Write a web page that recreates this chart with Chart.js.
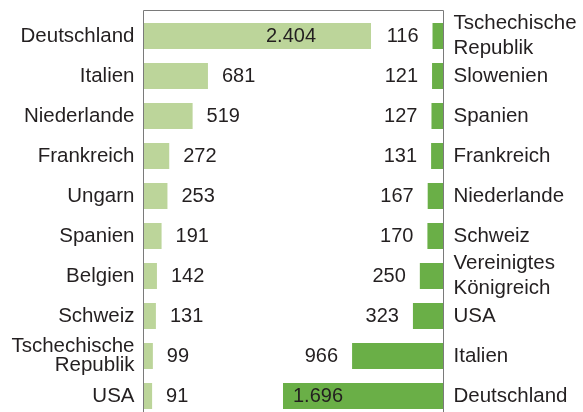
<!DOCTYPE html>
<html>
<head>
<meta charset="utf-8">
<script src="https://cdn.jsdelivr.net/npm/chart.js@4"></script>
<style>
  html, body { margin: 0; padding: 0; background: #fff; }
  #wrap { width: 583px; height: 412px; overflow: hidden; }
</style>
</head>
<body>
<div id="wrap">
  <canvas id="chart" width="583" height="420"></canvas>
</div>
<script>
// Linke Seite (hellgrün)
const leftLabels = ['Deutschland', 'Italien', 'Niederlande', 'Frankreich', 'Ungarn',
  'Spanien', 'Belgien', 'Schweiz', ['Tschechische', 'Republik'], 'USA'];
const leftValues = [2404, 681, 519, 272, 253, 191, 142, 131, 99, 91];

// Rechte Seite (dunkelgrün)
const rightLabels = [['Tschechische', 'Republik'], 'Slowenien', 'Spanien', 'Frankreich',
  'Niederlande', 'Schweiz', ['Vereinigtes', 'Königreich'], 'USA', 'Italien', 'Deutschland'];
const rightValues = [116, 121, 127, 131, 167, 170, 250, 323, 966, 1696];

const axisMax = 3170;
const textColor = '#231f20';
const lineColor = '#7a7a7a';
const fontFamily = '"Liberation Sans", Arial, sans-serif';

const fmt = v => String(v).replace(/\B(?=(\d{3})+(?!\d))/g, '.');

// Rahmen oben + Achsenlinien
const framePlugin = {
  id: 'frame',
  afterDatasetsDraw(chart) {
    const { ctx, chartArea } = chart;
    const top = chartArea.top - 6;
    ctx.save();
    ctx.strokeStyle = lineColor;
    ctx.lineWidth = 1;
    ctx.beginPath();
    ctx.moveTo(chartArea.left, chartArea.bottom);
    ctx.lineTo(chartArea.left, top + 0.5);
    ctx.lineTo(chartArea.right, top + 0.5);
    ctx.lineTo(chartArea.right, chartArea.bottom);
    ctx.stroke();
    ctx.restore();
  }
};

// Werte an den Balken
const valuePlugin = {
  id: 'values',
  afterDatasetsDraw(chart) {
    const { ctx } = chart;
    ctx.save();
    ctx.font = '20px ' + fontFamily;
    ctx.fillStyle = textColor;
    ctx.textBaseline = 'middle';
    chart.data.datasets.forEach((ds, di) => {
      const meta = chart.getDatasetMeta(di);
      meta.data.forEach((bar, i) => {
        const v = ds.data[i];
        const txt = fmt(v);
        if (di === 0) {
          if (v > 1500) { ctx.textAlign = 'right'; ctx.fillText(txt, bar.x - 55, bar.y); }
          else { ctx.textAlign = 'left'; ctx.fillText(txt, bar.x + 14, bar.y); }
        } else {
          if (v > 1500) { ctx.textAlign = 'left'; ctx.fillText(txt, bar.x + 10, bar.y); }
          else { ctx.textAlign = 'right'; ctx.fillText(txt, bar.x - 14, bar.y); }
        }
      });
    });
    ctx.restore();
  }
};

new Chart(document.getElementById('chart'), {
  type: 'bar',
  data: {
    datasets: [
      {
        data: leftValues,
        xAxisID: 'x',
        yAxisID: 'yL',
        backgroundColor: '#bcd59a',
        grouped: false,
        barPercentage: 0.65,
        categoryPercentage: 1
      },
      {
        data: rightValues,
        xAxisID: 'x2',
        yAxisID: 'yR',
        backgroundColor: '#6aaf47',
        grouped: false,
        barPercentage: 0.65,
        categoryPercentage: 1
      }
    ]
  },
  options: {
    indexAxis: 'y',
    responsive: false,
    animation: false,
    layout: { padding: { top: 16, bottom: 4, left: 0, right: 0 } },
    plugins: { legend: { display: false }, tooltip: { enabled: false } },
    scales: {
      x: { type: 'linear', min: 0, max: axisMax, display: false },
      x2: { type: 'linear', min: 0, max: axisMax, reverse: true, display: false },
      yL: {
        type: 'category',
        labels: leftLabels,
        position: 'left',
        grid: { display: false, drawTicks: false },
        border: { display: false },
        ticks: {
          color: textColor,
          padding: 9,
          autoSkip: false,
          font: { family: fontFamily, size: 20.5, lineHeight: 0.95 }
        },
        afterFit(scale) { scale.width = 143.5; scale.paddingTop = 0; scale.paddingBottom = 0; }
      },
      yR: {
        type: 'category',
        labels: rightLabels,
        position: 'right',
        grid: { display: false, drawTicks: false },
        border: { display: false },
        ticks: {
          color: textColor,
          padding: 10,
          autoSkip: false,
          font: { family: fontFamily, size: 20.5, lineHeight: 1.22 }
        },
        afterFit(scale) { scale.width = 139.5; scale.paddingTop = 0; scale.paddingBottom = 0; }
      }
    }
  },
  plugins: [framePlugin, valuePlugin]
});
</script>
</body>
</html>
